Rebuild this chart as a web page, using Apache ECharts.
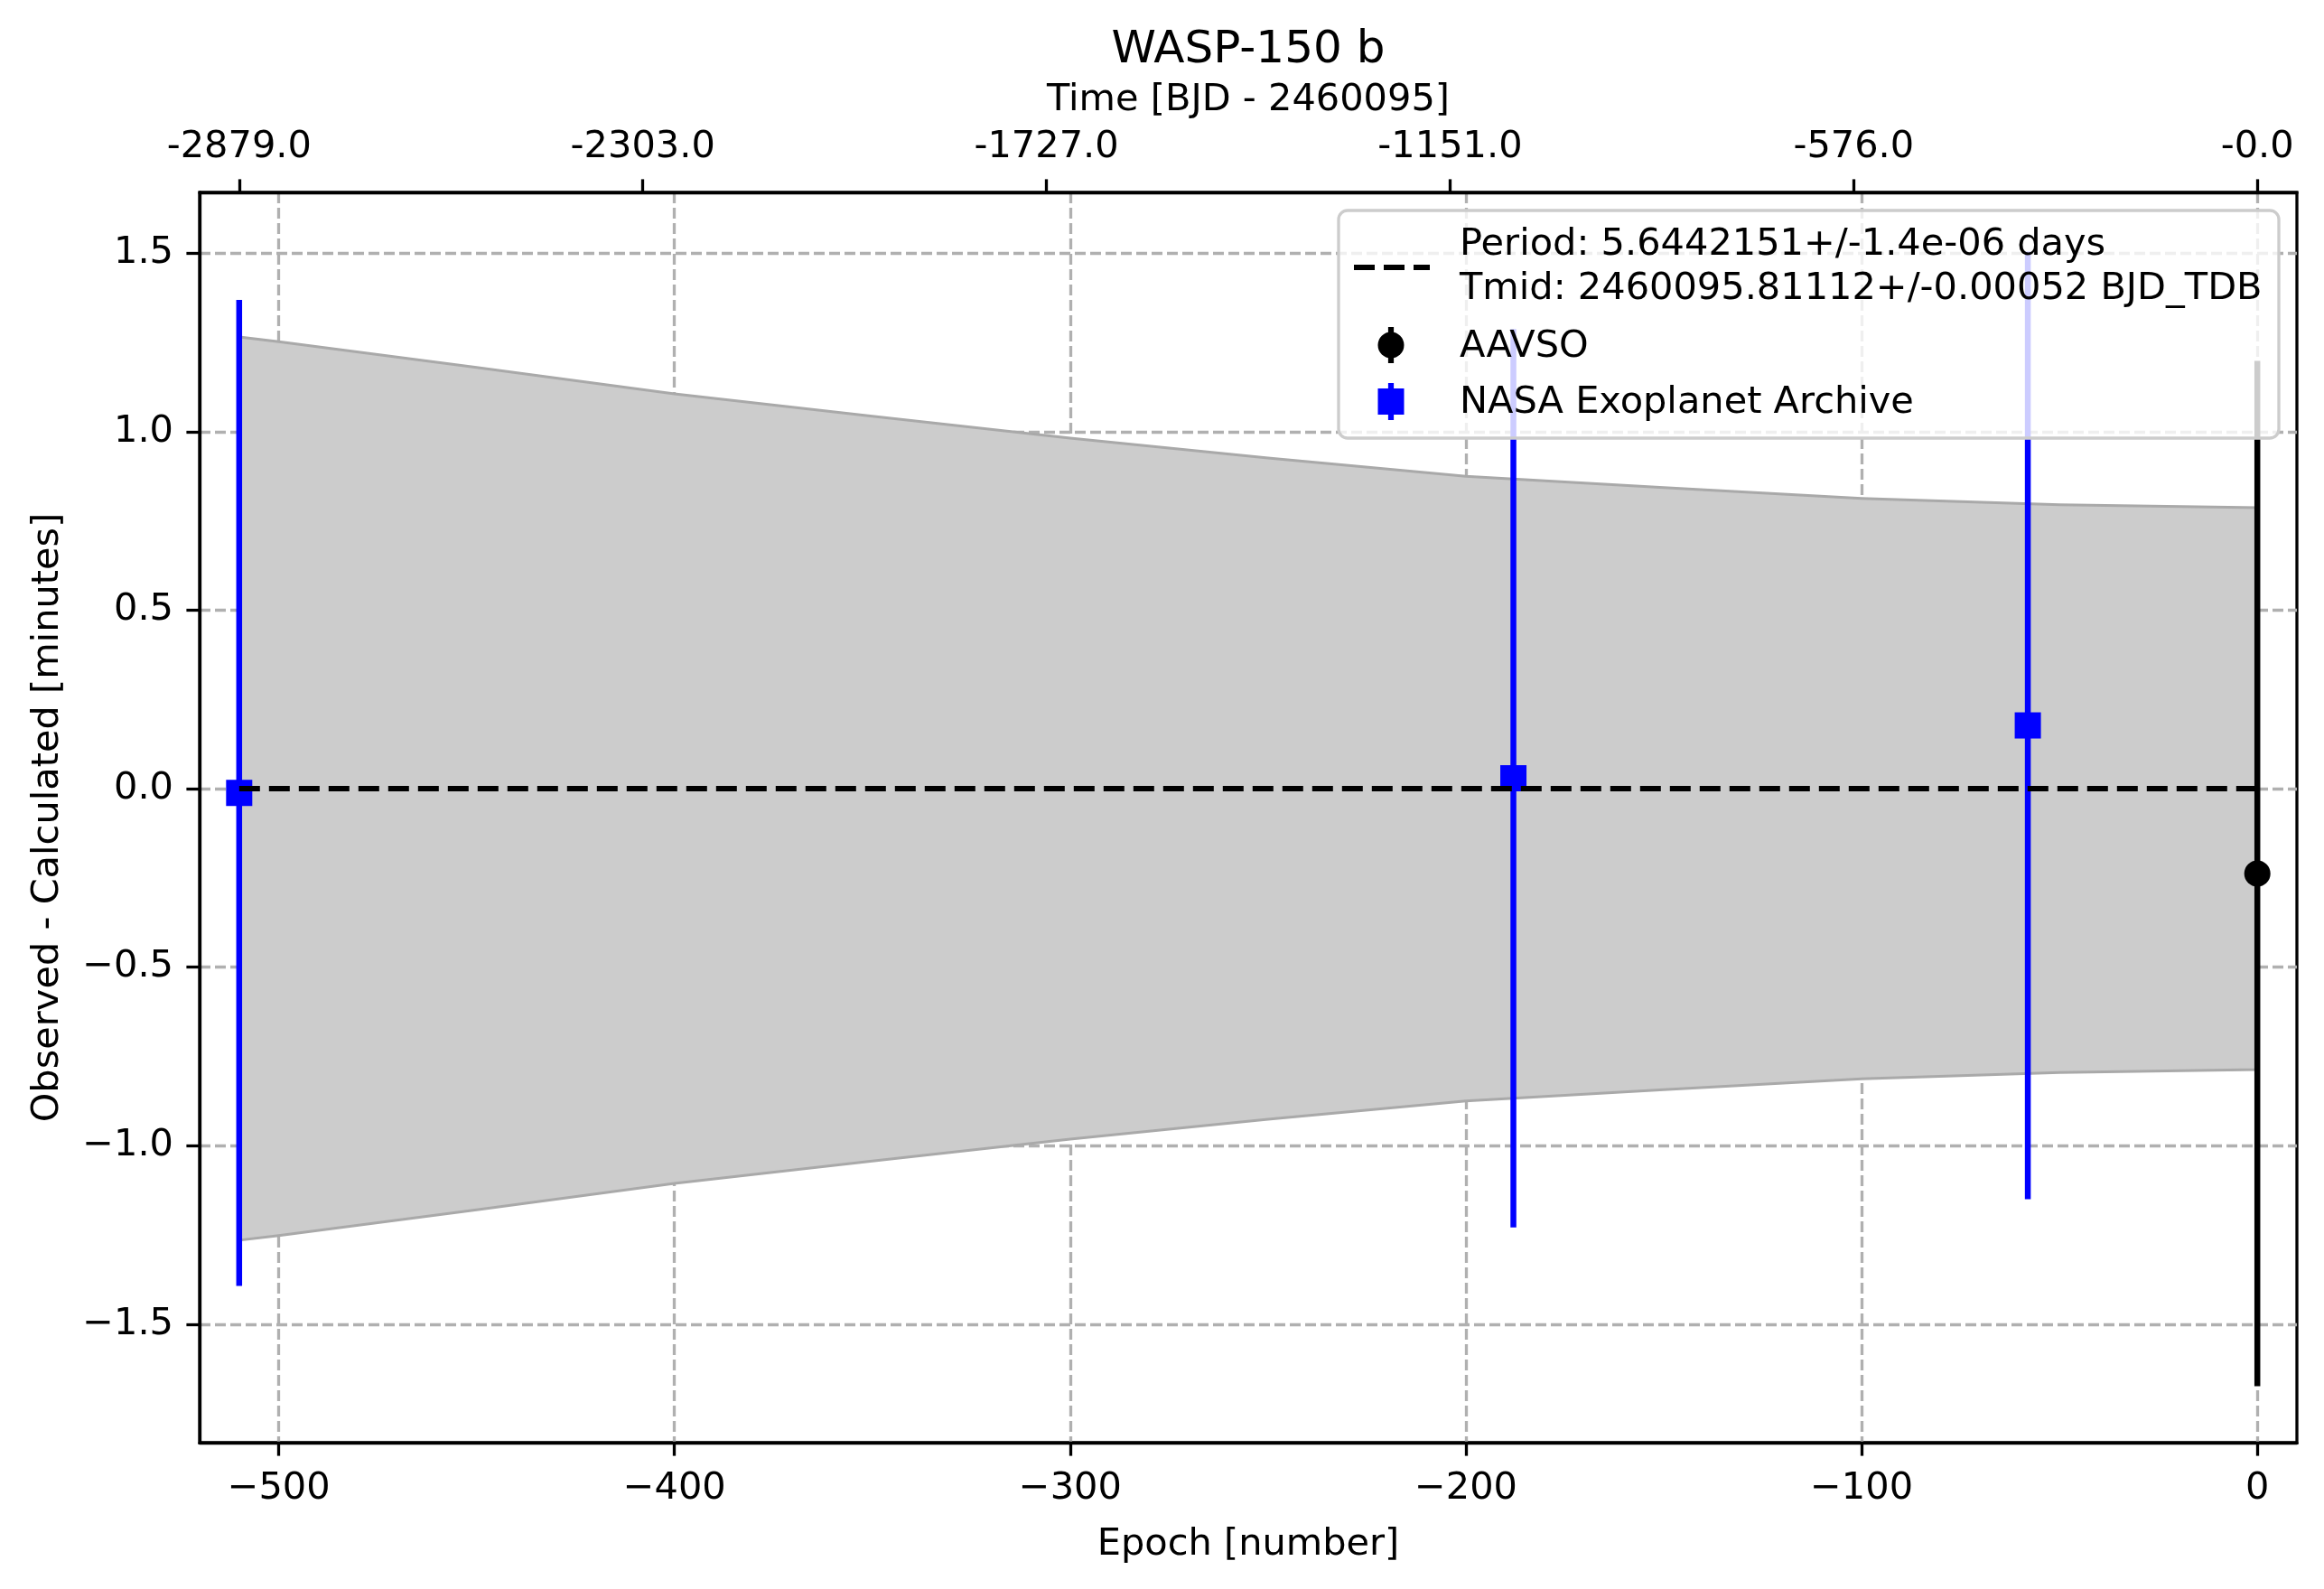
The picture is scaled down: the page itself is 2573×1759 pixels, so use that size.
<!DOCTYPE html>
<html lang="en">
<head>
<meta charset="UTF-8">
<title>WASP-150 b</title>
<script src="https://cdn.jsdelivr.net/npm/echarts@6/dist/echarts.min.js"></script>
<style>html,body{margin:0;padding:0;background:#fff;}</style>
</head>
<body>
<div id="main" style="width:2573px;height:1759px;"></div>
<script type="text/javascript">
// O-C values (epoch number, minutes)
var nasaEpochs = [-510, -188, -58];
var nasaOC = [-0.012, 0.029, 0.177];
var nasaErr = [1.381, 1.258, 1.327];

var aavsoEpochs = [0];
var aavsoOC = [-0.238];
var aavsoErr = [1.436];

// ephemeris uncertainty band, upper edge (lower edge mirrors it)
var bandEpochs = [-510, -500, -450, -400, -350, -300, -250, -200, -150, -100, -50, 0];
var bandUpper = [1.265, 1.252, 1.180, 1.106, 1.043, 0.982, 0.926, 0.875, 0.843, 0.813, 0.795, 0.787];

// linear fit (O-C = 0)
var fitEpochs = [-510, 0];
var fitOC = [0, 0];

var xTickValues = [-500, -400, -300, -200, -100, 0];
var xTickLabels = ['\u2212500', '\u2212400', '\u2212300', '\u2212200', '\u2212100', '0'];
var yTickValues = [-1.5, -1, -0.5, 0, 0.5, 1, 1.5];
var yTickLabels = ['\u22121.5', '\u22121.0', '\u22120.5', '0.0', '0.5', '1.0', '1.5'];
var topTickEpochs = [-510, -408, -306, -204, -102, 0];
var topTickLabels = ['-2879.0', '-2303.0', '-1727.0', '-1151.0', '-576.0', '-0.0'];

var periodText = 'Period: 5.6442151+/-1.4e-06 days';
var tmidText = 'Tmid: 2460095.81112+/-0.00052 BJD_TDB';

var FONT = 'DejaVu Sans';
var FS = 41.5;

function labelFor(values, labels) {
    return function (v) {
        for (var i = 0; i < values.length; i++) {
            if (Math.abs(values[i] - v) < 1e-6) return labels[i];
        }
        return '';
    };
}

function errorBar(shape) {
    return function (params, api) {
        var x = api.value(0), y = api.value(1), e = api.value(2);
        var top = api.coord([x, y + e]);
        var bot = api.coord([x, y - e]);
        var c = api.coord([x, y]);
        var color = api.visual('color');
        var marker = shape === 'square'
            ? {type: 'rect', shape: {x: c[0] - 14.5, y: c[1] - 14.5, width: 29, height: 29}, style: {fill: color}}
            : {type: 'circle', shape: {cx: c[0], cy: c[1], r: 14.5}, style: {fill: color}};
        return {
            type: 'group',
            children: [
                {type: 'line', shape: {x1: top[0], y1: top[1], x2: bot[0], y2: bot[1]},
                 style: {stroke: color, lineWidth: 6.5}},
                marker
            ]
        };
    };
}

function bandShape(params, api) {
    if (params.dataIndex !== 0) return null;
    var pts = [];
    for (var i = 0; i < bandEpochs.length; i++) pts.push(api.coord([bandEpochs[i], bandUpper[i]]));
    for (var j = bandEpochs.length - 1; j >= 0; j--) pts.push(api.coord([bandEpochs[j], -bandUpper[j]]));
    return {
        type: 'polygon',
        shape: {points: pts},
        style: {fill: '#cccccc', stroke: '#a9a9a9', lineWidth: 3}
    };
}

var axisText = {fontSize: FS, fontFamily: FONT, color: '#000'};
var gridDash = {color: '#b0b0b0', width: 3.3, type: [12, 5]};

var myChart = echarts.init(document.getElementById('main'));
myChart.setOption({
    animation: false,
    backgroundColor: '#fff',
    title: {
        text: 'WASP-150 b',
        left: 1382, top: 31, textAlign: 'center', padding: 0,
        textStyle: {fontSize: 50, fontWeight: 'normal', fontFamily: FONT, color: '#000'}
    },
    grid: {left: 221, right: 30, top: 213, bottom: 162, show: true, borderColor: '#000', borderWidth: 3.3},
    xAxis: [{
        type: 'value', position: 'bottom', min: -520, max: 10,
        splitNumber: 5, minInterval: 100, maxInterval: 100,
        name: 'Epoch [number]', nameLocation: 'middle', nameGap: 92, nameTextStyle: axisText,
        axisLine: {show: true, onZero: false, lineStyle: {color: '#000', width: 3.3}},
        axisTick: {show: true, length: 14.6, customValues: xTickValues, lineStyle: {color: '#000', width: 3.3}},
        axisLabel: {customValues: xTickValues, margin: 30, fontSize: FS, fontFamily: FONT, color: '#000',
                    formatter: labelFor(xTickValues, xTickLabels)},
        splitLine: {show: true, lineStyle: gridDash}
    }, {
        type: 'value', position: 'top', min: -520, max: 10,
        name: 'Time [BJD - 2460095]', nameLocation: 'middle', nameGap: 81, nameTextStyle: axisText,
        axisLine: {show: true, onZero: false, lineStyle: {color: '#000', width: 3.3}},
        axisTick: {show: true, length: 14.6, customValues: topTickEpochs, lineStyle: {color: '#000', width: 3.3}},
        axisLabel: {customValues: topTickEpochs, margin: 29, fontSize: FS, fontFamily: FONT, color: '#000',
                    formatter: labelFor(topTickEpochs, topTickLabels)},
        splitLine: {show: false}
    }],
    yAxis: {
        type: 'value', min: -1.832, max: 1.670,
        splitNumber: 7, minInterval: 0.5, maxInterval: 0.5,
        name: 'Observed - Calculated [minutes]', nameLocation: 'middle', nameGap: 147, nameTextStyle: axisText,
        axisLine: {show: true, onZero: false, lineStyle: {color: '#000', width: 3.3}},
        axisTick: {show: true, length: 14.6, customValues: yTickValues, lineStyle: {color: '#000', width: 3.3}},
        axisLabel: {customValues: yTickValues, margin: 29, fontSize: FS, fontFamily: FONT, color: '#000',
                    formatter: labelFor(yTickValues, yTickLabels)},
        splitLine: {show: true, lineStyle: gridDash}
    },
    series: [{
        name: 'band', type: 'custom', z: 1, clip: true, silent: true,
        renderItem: bandShape,
        data: bandEpochs.map(function (e, i) { return [e, bandUpper[i]]; })
    }, {
        name: 'NASA Exoplanet Archive', type: 'custom', z: 3, clip: true,
        itemStyle: {color: '#0000ff'},
        renderItem: errorBar('square'),
        encode: {x: 0, y: 1},
        data: nasaEpochs.map(function (e, i) { return [e, nasaOC[i], nasaErr[i]]; })
    }, {
        name: 'AAVSO', type: 'custom', z: 3, clip: true,
        itemStyle: {color: '#000000'},
        renderItem: errorBar('circle'),
        encode: {x: 0, y: 1},
        data: aavsoEpochs.map(function (e, i) { return [e, aavsoOC[i], aavsoErr[i]]; })
    }, {
        name: 'fit', type: 'line', z: 4, symbol: 'none', silent: true,
        lineStyle: {color: '#000', width: 6.2, type: [23, 10]},
        data: fitEpochs.map(function (e, i) { return [e, fitOC[i]]; })
    }],
    graphic: [
        {type: 'rect', z: 100, shape: {x: 1482, y: 233, width: 1041, height: 252, r: 10},
         style: {fill: 'rgba(255,255,255,0.8)', stroke: '#cccccc', lineWidth: 3.3}},
        {type: 'line', z: 101, shape: {x1: 1499, y1: 296, x2: 1583, y2: 296},
         style: {stroke: '#000', lineWidth: 6.2, lineDash: [23, 10]}},
        {type: 'text', z: 101, x: 1616, y: 271,
         style: {text: periodText, fontSize: FS, fontFamily: FONT, fill: '#000', verticalAlign: 'middle', align: 'left'}},
        {type: 'text', z: 101, x: 1616, y: 320,
         style: {text: tmidText, fontSize: FS, fontFamily: FONT, fill: '#000', verticalAlign: 'middle', align: 'left'}},
        {type: 'line', z: 101, shape: {x1: 1540, y1: 362, x2: 1540, y2: 402},
         style: {stroke: '#000', lineWidth: 6.2}},
        {type: 'circle', z: 101, shape: {cx: 1540, cy: 382, r: 14.5}, style: {fill: '#000'}},
        {type: 'text', z: 101, x: 1616, y: 384,
         style: {text: 'AAVSO', fontSize: FS, fontFamily: FONT, fill: '#000', verticalAlign: 'middle', align: 'left'}},
        {type: 'line', z: 101, shape: {x1: 1540, y1: 424, x2: 1540, y2: 465},
         style: {stroke: '#0000ff', lineWidth: 6.2}},
        {type: 'rect', z: 101, shape: {x: 1525.5, y: 430, width: 29, height: 29}, style: {fill: '#0000ff'}},
        {type: 'text', z: 101, x: 1616, y: 446,
         style: {text: 'NASA Exoplanet Archive', fontSize: FS, fontFamily: FONT, fill: '#000', verticalAlign: 'middle', align: 'left'}}
    ]
});
</script>
</body>
</html>
